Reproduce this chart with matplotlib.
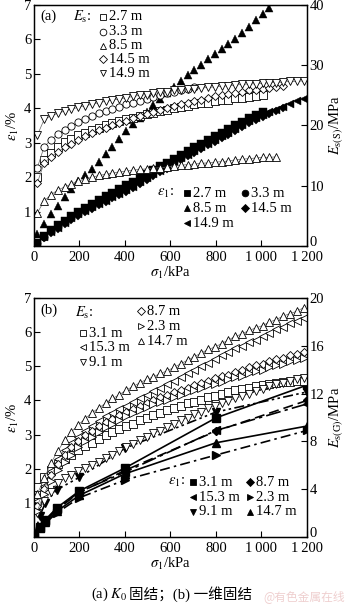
import numpy as np
import matplotlib
matplotlib.use('Agg')
import matplotlib.pyplot as plt

plt.rcParams['font.family'] = ['Liberation Serif', 'Noto Sans CJK SC']
plt.rcParams['mathtext.fontset'] = 'stix'
plt.rcParams['font.size'] = 10.5

# loading steps (kPa) shared by the dense records
sig = [15, 45, 75, 105, 135, 165, 195, 225, 255, 285, 315, 345, 375, 405, 435,
       465, 495, 525, 555, 585, 615, 645, 675, 705, 735, 765, 795, 825, 855, 885,
       915, 945, 975, 1005, 1035, 1065, 1095, 1125, 1155, 1185]

# ---- (a) K0 consolidation: Es(S) in MPa ----
es_a_27 = [11.5, 14.2, 15.4, 16.4, 17.2, 17.8, 18.4, 18.8, 19.2, 19.6, 20.0, 20.4,
           20.7, 21.0, 21.3, 21.6, 21.9, 22.1, 22.4, 22.6, 22.9, 23.1, 23.3, 23.5,
           23.7, 23.8, 24.0, 24.2, 24.3, 24.5, 24.6, 24.7, 24.9, 25.0]
es_a_33 = [13.0, 16.5, 17.6, 18.6, 19.3, 19.9, 20.5, 21.0, 21.5, 22.0, 22.4, 22.8,
           23.1, 23.5, 23.8, 24.1, 24.4, 24.7, 25.0, 25.3, 25.6, 25.8, 26.1, 26.3]
es_a_85 = [5.5, 7.5, 8.5, 9.3, 9.8, 10.3, 10.8, 11.1, 11.4, 11.7, 11.9, 12.1, 12.3,
           12.4, 12.6, 12.7, 12.8, 12.9, 13.0, 13.1, 13.3, 13.4, 13.5, 13.6, 13.7,
           13.8, 13.9, 14.0, 14.1, 14.3, 14.4, 14.5, 14.6, 14.7, 14.7, 14.8]
es_a_145 = [10.5, 13.8, 14.8, 15.6, 16.4, 17.0, 17.6, 18.2, 18.7, 19.2, 19.6, 20.0,
            20.4, 20.8, 21.2, 21.6, 21.9, 22.3, 22.6, 22.9, 23.2, 23.5, 23.8, 24.0,
            24.3, 24.5, 24.8, 25.0, 25.2, 25.4, 25.6, 25.8, 25.9, 26.1, 26.2, 26.4, 26.5]
es_a_149 = [18.4, 21.0, 21.6, 22.0, 22.4, 22.7, 23.0, 23.3, 23.5, 23.8, 24.0, 24.2,
            24.4, 24.6, 24.8, 25.0, 25.1, 25.3, 25.5, 25.6, 25.8, 25.9, 26.0, 26.1,
            26.2, 26.3, 26.4, 26.5, 26.6, 26.7, 26.8, 26.9, 26.9, 27.0, 27.1, 27.1,
            27.2, 27.3, 27.3, 27.4]

# ---- (a) strain eps1 in % ----
ep_a_27 = [0.1, 0.3, 0.46, 0.6, 0.74, 0.88, 1.0, 1.11, 1.22, 1.33, 1.44, 1.55, 1.65,
           1.76, 1.87, 1.98, 2.09, 2.2, 2.31, 2.42, 2.54, 2.65, 2.76, 2.86, 2.97,
           3.08, 3.19, 3.29, 3.4, 3.5, 3.61, 3.71, 3.8, 3.88]
ep_a_33 = [0.09, 0.27, 0.43, 0.57, 0.7, 0.84, 0.96, 1.07, 1.17, 1.27, 1.38, 1.48,
           1.58, 1.69, 1.79, 1.91, 2.02, 2.13, 2.24, 2.35, 2.48, 2.59, 2.7, 2.8]
ep_a_85 = [0.35, 0.65, 0.92, 1.15, 1.42, 1.65, 1.9, 2.05, 2.25, 2.45, 2.68, 2.88,
           3.1, 3.35, 3.54, 3.72, 3.9, 4.08, 4.26, 4.44, 4.62, 4.78, 4.95, 5.1, 5.26,
           5.42, 5.57, 5.72, 5.85, 6.0, 6.18, 6.36, 6.55, 6.74, 6.92, 7.1]
ep_a_145 = [0.07, 0.22, 0.37, 0.5, 0.63, 0.76, 0.88, 0.98, 1.08, 1.18, 1.28, 1.38,
            1.48, 1.58, 1.68, 1.81, 1.92, 2.03, 2.14, 2.25, 2.39, 2.5, 2.6, 2.7,
            2.81, 2.92, 3.03, 3.13, 3.23, 3.35, 3.46, 3.56, 3.66, 3.75, 3.84, 3.92, 4.0]
ep_a_149 = [0.08, 0.25, 0.4, 0.53, 0.66, 0.8, 0.92, 1.02, 1.12, 1.22, 1.32, 1.42,
            1.52, 1.62, 1.72, 1.86, 1.97, 2.08, 2.19, 2.3, 2.45, 2.55, 2.65, 2.75,
            2.86, 2.97, 3.08, 3.18, 3.28, 3.4, 3.52, 3.62, 3.72, 3.8, 3.88, 3.96,
            4.04, 4.12, 4.2, 4.26]

# ---- (b) 1D consolidation: Es(G) in MPa ----
es_b_31 = [4.2, 5.0, 5.6, 6.1, 6.5, 6.9, 7.3, 7.6, 7.9, 8.2, 8.5, 8.8, 9.0, 9.3,
           9.5, 9.8, 10.0, 10.2, 10.4, 10.6, 10.8, 11.0, 11.2, 11.3, 11.5, 11.7,
           11.8, 12.0, 12.1, 12.3, 12.4, 12.5, 12.6, 12.7, 12.8, 12.9, 13.0, 13.0,
           13.1, 13.1]
es_b_153 = [3.0, 4.3, 5.5, 6.5, 7.3, 7.9, 8.4, 8.9, 9.3, 9.7, 10.1, 10.4, 10.7,
            11.0, 11.3, 11.6, 11.9, 12.2, 12.5, 12.8, 13.1, 13.4, 13.7, 14.0, 14.3,
            14.6, 14.9, 15.2, 15.5, 15.8, 16.0, 16.3, 16.5, 16.8, 17.1, 17.4, 17.6,
            17.9, 18.1, 18.3]
es_b_91 = [2.0, 3.0, 3.8, 4.5, 4.9, 5.2, 5.5, 5.8, 6.0, 6.3, 6.6, 6.9, 7.2, 7.5,
           7.8, 8.1, 8.4, 8.7, 8.9, 9.2, 9.5, 9.8, 10.0, 10.3, 10.5, 10.8, 11.0,
           11.2, 11.4, 11.6, 11.8, 12.0, 12.2, 12.4, 12.6, 12.8, 12.9, 13.1, 13.2, 13.3]
es_b_87 = [2.6, 4.0, 5.2, 6.1, 6.9, 7.5, 8.0, 8.5, 8.9, 9.3, 9.6, 9.9, 10.2, 10.5,
           10.7, 11.0, 11.2, 11.5, 11.7, 11.9, 12.1, 12.3, 12.5, 12.7, 12.9, 13.1,
           13.3, 13.5, 13.6, 13.8, 14.0, 14.2, 14.4, 14.5, 14.7, 14.9, 15.0, 15.2,
           15.3, 15.5]
es_b_23 = [2.2, 3.6, 4.7, 5.6, 6.3, 6.9, 7.5, 8.0, 8.4, 8.8, 9.2, 9.5, 9.8, 10.1,
           10.4, 10.6, 10.9, 11.1, 11.3, 11.5, 11.7, 11.9, 12.1, 12.3, 12.5, 12.7,
           12.8, 13.0, 13.2, 13.4, 13.5, 13.7, 13.9, 14.0, 14.2, 14.4, 14.5, 14.7,
           14.8, 15.0]
es_b_147 = [3.6, 4.9, 6.2, 7.2, 8.1, 8.8, 9.4, 9.9, 10.4, 10.8, 11.2, 11.6, 11.9,
            12.3, 12.6, 12.9, 13.2, 13.4, 13.7, 13.9, 14.2, 14.5, 14.8, 15.1, 15.4,
            15.7, 15.9, 16.2, 16.5, 16.8, 17.0, 17.3, 17.5, 17.7, 18.0, 18.2, 18.5,
            18.7, 18.9, 19.2]

# ---- (b) strain eps1 in % at load steps ----
sig_b = [0, 25, 50, 100, 200, 400, 800, 1200]
ep_b_31 = [0, 0.28, 0.5, 0.85, 1.35, 2.02, 3.49, 4.45]
ep_b_87 = [0, 0.26, 0.47, 0.8, 1.3, 1.95, 3.1, 4.0]
ep_b_153 = [0, 0.27, 0.48, 0.82, 1.32, 1.9, 3.12, 3.9]
ep_b_23 = [0, 0.22, 0.4, 0.7, 1.15, 1.67, 2.4, 3.12]
ep_b_91 = [0, 0.6, 1.0, 1.38, 1.75, 2.6, 3.66, 4.25]
ep_b_147 = [0, 0.25, 0.45, 0.75, 1.22, 1.85, 2.76, 3.25]

xticks = [0, 200, 400, 600, 800, 1000, 1200]
xtick_labels = ['0', '200', '400', '600', '800', '1\u2009000', '1\u2009200']

fig = plt.figure(figsize=(3.5, 6.06), dpi=100)
ax_a = fig.add_axes([0.097, 0.594, 0.78, 0.398])
ax_b = fig.add_axes([0.097, 0.114, 0.78, 0.394])

ms = 5.2
mew = 0.6
# diamonds look bigger than the other markers at equal size
size_of = {'D': 4.3}


def open_series(ax, y, marker):
    ax.plot(sig[:len(y)], y, marker=marker, ms=size_of.get(marker, ms), mfc='white',
            mec='k', mew=mew, color='0.4', lw=0.5)


def filled_series(ax, y, marker):
    ax.plot(sig[:len(y)], y, marker=marker, ms=size_of.get(marker, ms), mfc='k',
            mec='k', mew=0.3, ls='none')


def key(ax, x, y, marker, label, filled):
    ax.plot([x], [y], marker=marker, ms=size_of.get(marker, ms) - 0.4,
            mfc='k' if filled else 'white', mec='k', mew=mew, ls='none',
            transform=ax.transAxes, clip_on=False)
    ax.text(x + 0.022, y, label, transform=ax.transAxes, va='center', ha='left')


def setup(ax, ax2, rlabel, rmax, rticks):
    ax.set_xlim(0, 1200)
    ax.set_ylim(0, 7)
    ax.set_xticks(xticks)
    ax.set_xticklabels(xtick_labels)
    ax.set_yticks(range(0, 8))
    ax.set_yticklabels([''] + [str(i) for i in range(1, 8)])
    ax.set_xlabel('$\\sigma_1$/kPa', labelpad=1)
    ax.set_ylabel('$\\varepsilon_1$/%', labelpad=2)
    ax2.set_ylim(0, rmax)
    ax2.set_yticks(rticks)
    ax2.set_ylabel(rlabel, labelpad=2)
    for a in (ax, ax2):
        a.tick_params(direction='in', length=4, width=0.8, pad=2)
        for s in a.spines.values():
            s.set_linewidth(0.9)
    ax.tick_params(axis='x', pad=3.5)
    # the right-hand 0 sits just above the corner
    ax2.yaxis.get_major_ticks()[0].label2.set_va('baseline')


# ---------- panel (a) ----------
ax2_a = ax_a.twinx()
filled_series(ax_a, ep_a_27, 's')
filled_series(ax_a, ep_a_33, 'o')
filled_series(ax_a, ep_a_85, '^')
filled_series(ax_a, ep_a_145, 'D')
filled_series(ax_a, ep_a_149, '<')
open_series(ax2_a, es_a_27, 's')
open_series(ax2_a, es_a_33, 'o')
open_series(ax2_a, es_a_85, '^')
open_series(ax2_a, es_a_145, 'D')
open_series(ax2_a, es_a_149, 'v')
setup(ax_a, ax2_a, '$E_{\\mathrm{s(S)}}$/MPa', 40, [0, 10, 20, 30, 40])

ax_a.text(0.022, 0.951, '(a)', transform=ax_a.transAxes, va='center')
ax_a.text(0.143, 0.951, '$E_\\mathrm{s}$:', transform=ax_a.transAxes, va='center')
rows_a = [0.951, 0.889, 0.831, 0.774, 0.716]
for yy, mk, lab in zip(rows_a, ['s', 'o', '^', 'D', 'v'],
                       ['2.7 m', '3.3 m', '8.5 m', '14.5 m', '14.9 m']):
    key(ax2_a, 0.253, yy, mk, lab, False)

ax2_a.text(0.451, 0.218, '$\\varepsilon_1$:', transform=ax_a.transAxes, va='center')
key(ax2_a, 0.560, 0.218, 's', '2.7 m', True)
key(ax2_a, 0.773, 0.218, 'o', '3.3 m', True)
key(ax2_a, 0.560, 0.156, '^', '8.5 m', True)
key(ax2_a, 0.773, 0.156, 'D', '14.5 m', True)
key(ax2_a, 0.560, 0.095, '<', '14.9 m', True)

# ---------- panel (b) ----------
ax2_b = ax_b.twinx()
lw = 1.2
ax_b.plot(sig_b, ep_b_31, 'k-', marker='s', ms=ms, lw=lw)
ax_b.plot(sig_b, ep_b_91, color='k', ls=(0, (6, 2, 1.5, 2, 1.5, 2)), marker='v', ms=ms, lw=lw)
ax_b.plot(sig_b, ep_b_87, color='k', ls=(0, (6, 3)), marker='D', ms=size_of['D'], lw=lw)
ax_b.plot(sig_b, ep_b_153, color='k', ls=(0, (9, 2.5, 2, 2.5)), marker='<', ms=ms, lw=lw)
ax_b.plot(sig_b, ep_b_147, 'k-', marker='^', ms=ms, lw=lw)
ax_b.plot(sig_b, ep_b_23, color='k', ls=(0, (6, 2.5, 1.5, 2.5)), marker='>', ms=ms, lw=lw)
open_series(ax2_b, es_b_31, 's')
open_series(ax2_b, es_b_153, '<')
open_series(ax2_b, es_b_91, 'v')
open_series(ax2_b, es_b_87, 'D')
open_series(ax2_b, es_b_23, '>')
open_series(ax2_b, es_b_147, '^')
setup(ax_b, ax2_b, '$E_{\\mathrm{s(G)}}$/MPa', 20, [0, 4, 8, 12, 16, 20])

ax_b.text(0.022, 0.950, '(b)', transform=ax_b.transAxes, va='center')
ax_b.text(0.150, 0.937, '$E_\\mathrm{s}$:', transform=ax_b.transAxes, va='center')
key(ax2_b, 0.179, 0.854, 's', '3.1 m', False)
key(ax2_b, 0.179, 0.795, '<', '15.3 m', False)
key(ax2_b, 0.179, 0.732, 'v', '9.1 m', False)
key(ax2_b, 0.392, 0.946, 'D', '8.7 m', False)
key(ax2_b, 0.392, 0.883, '>', '2.3 m', False)
key(ax2_b, 0.392, 0.820, '^', '14.7 m', False)

ax2_b.text(0.491, 0.230, '$\\varepsilon_1$:', transform=ax_b.transAxes, va='center')
key(ax2_b, 0.582, 0.230, 's', '3.1 m', True)
key(ax2_b, 0.791, 0.230, 'D', '8.7 m', True)
key(ax2_b, 0.582, 0.167, '<', '15.3 m', True)
key(ax2_b, 0.791, 0.167, '>', '2.3 m', True)
key(ax2_b, 0.582, 0.105, 'v', '9.1 m', True)
key(ax2_b, 0.791, 0.105, '^', '14.7 m', True)

# caption: mathtext part and CJK part are separate texts, placed side by side
renderer = fig.canvas.get_renderer()
cap1 = fig.text(0.0, 0.023, '(a) $K_0$', ha='left', va='center_baseline')
cap2 = fig.text(0.0, 0.023, '固结；(b) 一维固结', ha='left', va='center_baseline')
w1 = cap1.get_window_extent(renderer).width
w2 = cap2.get_window_extent(renderer).width
x0 = 171 - (w1 + w2) / 2
fig_w = fig.bbox.width
cap1.set_x(x0 / fig_w)
cap2.set_x((x0 + w1 + 1) / fig_w)

fig.text(0.985, 0.015, '@有色金属在线', ha='right', va='center', fontsize=8.5,
         color='#efcfcf', family=['Noto Sans CJK SC'])

fig.savefig('out.png', dpi=100)
